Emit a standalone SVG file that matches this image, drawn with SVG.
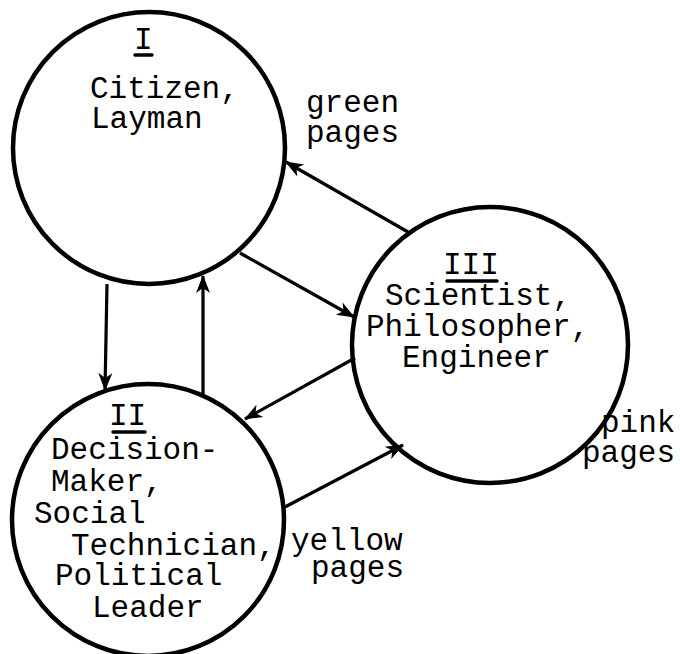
<svg xmlns="http://www.w3.org/2000/svg" width="680" height="654" viewBox="0 0 680 654">
<style>
.node circle{fill:none;stroke:#000;stroke-width:4.5}
text{font-family:"Liberation Mono","Courier New",monospace;font-size:31px;fill:#000}
.ul{stroke:#000;stroke-width:3.5;stroke-linecap:round}
.conn line{stroke:#000;stroke-width:3.2;fill:none;marker-end:url(#ah)}
</style>
<defs>
<marker id="ah" viewBox="-18 -8 20 16" refX="0" refY="0" markerWidth="20" markerHeight="16" markerUnits="userSpaceOnUse" orient="auto">
<path d="M1,0 L-17,-7 L-12,0 L-17,7 Z" fill="#000"/>
</marker>
</defs>
<rect width="680" height="654" fill="#fff"/>
<g id="node-I" class="node">
<circle cx="149" cy="148" r="136"/>
<text x="134" y="49">I</text>
<line class="ul" x1="135" y1="55" x2="152" y2="55"/>
<text x="90" y="98">Citizen,</text>
<text x="91" y="128">Layman</text>
</g>
<g id="node-II" class="node">
<circle cx="148" cy="520" r="136"/>
<text x="109" y="425">II</text>
<line class="ul" x1="113" y1="432" x2="145" y2="432"/>
<text x="51" y="459">Decision-</text>
<text x="51" y="491">Maker,</text>
<text x="34" y="523">Social</text>
<text x="71" y="555">Technician,</text>
<text x="55" y="585">Political</text>
<text x="92" y="617">Leader</text>
</g>
<g id="node-III" class="node">
<circle cx="490" cy="345" r="138"/>
<text x="443" y="274">III</text>
<line class="ul" x1="447" y1="281" x2="497" y2="281"/>
<text x="385" y="305">Scientist,</text>
<text x="366" y="336">Philosopher,</text>
<text x="402" y="367">Engineer</text>
</g>
<g id="labels">
<text x="306" y="112">green</text>
<text x="306" y="142">pages</text>
<text x="601" y="432">pink</text>
<text x="582" y="462">pages</text>
<text x="291" y="550">yellow</text>
<text x="311" y="577">pages</text>
</g>
<g id="connectors" class="conn">
<line x1="107" y1="284" x2="105" y2="390"/>
<line x1="203" y1="395" x2="203" y2="276"/>
<line x1="240" y1="253" x2="354" y2="317"/>
<line x1="408" y1="232" x2="286" y2="162"/>
<line x1="355" y1="358" x2="245" y2="419"/>
<line x1="285" y1="507" x2="403" y2="445"/>
</g>
</svg>
